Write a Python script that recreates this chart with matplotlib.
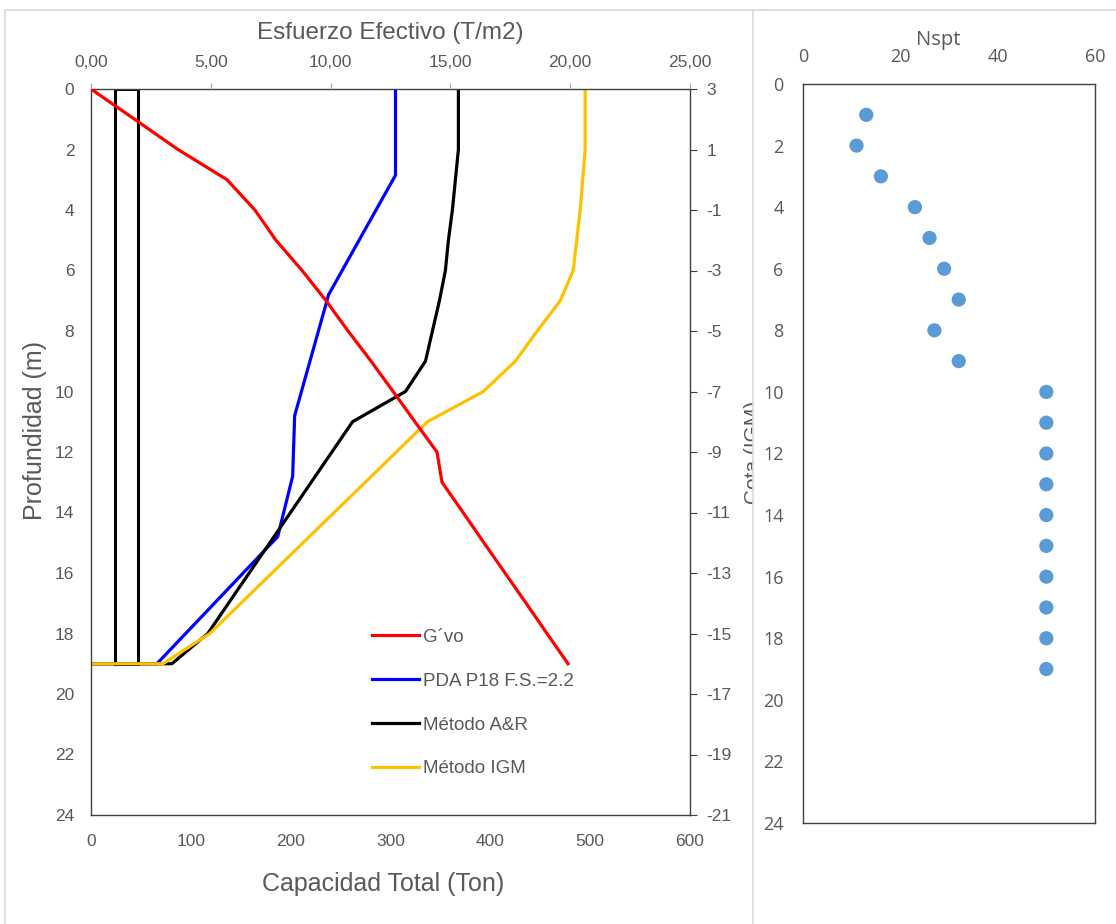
import matplotlib
matplotlib.use("Agg")
import matplotlib.pyplot as plt
from matplotlib.patches import Rectangle
from matplotlib.ticker import FuncFormatter, MultipleLocator

plt.rcParams["axes.unicode_minus"] = False

# ---------------- data ----------------
# Effective stress (T/m2) vs depth (m)
gvo_depth = [0, 1, 2, 3, 4, 5, 6, 7, 8, 9, 10, 11, 12, 13, 14, 15, 16, 17, 18, 19]
gvo_stress = [0.0, 1.82, 3.63, 5.68, 6.84, 7.72, 8.81, 9.81, 10.73, 11.69, 12.61,
              13.52, 14.44, 14.65, 15.53, 16.40, 17.28, 18.16, 19.03, 19.91]

# PDA P18 F.S.=2.2 (Ton)
pda_depth = [0, 2.85, 6.8, 10.8, 12.8, 14.8, 19, 19]
pda_cap = [305, 305, 238, 204, 202, 187, 66, 0]

# Método A&R (Ton)
ar_depth = [0, 2, 3, 4, 5, 6, 7, 8, 9, 10, 11, 18, 19, 19]
ar_cap = [368, 368, 365, 362, 358, 355, 349, 342, 335, 315, 262, 117, 81, 0]

# Método IGM (Ton)
igm_depth = [0, 2, 4, 6, 7, 8, 9, 10, 11, 18, 19, 19]
igm_cap = [495, 495, 490, 483, 470, 447, 425, 393, 337, 119, 72, 0]

# Pile outline (Ton units on capacity axis)
pile_cap = [24, 24, 47, 47, 24]
pile_depth = [19, 0, 0, 19, 19]

# Nspt profile
nspt_depth = [1, 2, 3, 4, 5, 6, 7, 8, 9, 10, 11, 12, 13, 14, 15, 16, 17, 18, 19]
nspt_vals = [13, 11, 16, 23, 26, 29, 32, 27, 32, 50, 50, 50, 50, 50, 50, 50, 50, 50, 50]

# ---------------- style ----------------
TXT = "#595959"
SPINE = "#404040"
narrow = ["Liberation Sans Narrow", "Liberation Sans", "DejaVu Sans"]
wide = ["Open Sans", "DejaVu Sans"]

W, H = 1116, 924
fig = plt.figure(figsize=(W / 100, H / 100), dpi=100)
fig.patch.set_facecolor("white")

def fx(px):
    return px / W

def fy(py):
    return 1 - py / H

# outer chart borders
fig.add_artist(Rectangle((fx(5), fy(1000)), fx(760), fy(10) - fy(1000),
                         transform=fig.transFigure, facecolor="white",
                         edgecolor="#d9d9d9", lw=1.2, zorder=-5))

# ---------------- left chart ----------------
ax = fig.add_axes([fx(91), fy(815), fx(690) - fx(91), fy(89) - fy(815)], zorder=0)
ax.set_xlim(0, 600)
ax.set_ylim(24, 0)
ax.xaxis.set_major_locator(MultipleLocator(100))
ax.yaxis.set_major_locator(MultipleLocator(2))
for s in ax.spines.values():
    s.set_color(SPINE)
    s.set_linewidth(1.0)
ax.tick_params(axis="both", length=0, colors=TXT, labelsize=12.5)
ax.tick_params(axis="x", pad=14)
ax.tick_params(axis="y", pad=12)
for lab in ax.get_xticklabels() + ax.get_yticklabels():
    lab.set_family(narrow)

ax_top = ax.twiny()
ax_top.set_xlim(0, 25)
ax_top.xaxis.set_major_locator(MultipleLocator(5))
ax_top.xaxis.set_major_formatter(FuncFormatter(lambda v, p: f"{v:.2f}".replace(".", ",")))
ax_top.tick_params(axis="x", length=4, color="#a6a6a6", colors=TXT, labelsize=12.5, pad=10)
for lab in ax_top.get_xticklabels():
    lab.set_family(narrow)
for s in ax_top.spines.values():
    s.set_visible(False)

ax_r = ax.twinx()
ax_r.set_ylim(-21, 3)
ax_r.set_yticks(list(range(3, -22, -2)))
ax_r.tick_params(axis="y", length=5, color=SPINE, colors=TXT, labelsize=12.5, pad=7)
for lab in ax_r.get_yticklabels():
    lab.set_family(narrow)
for s in ax_r.spines.values():
    s.set_visible(False)
ax_r.set_ylabel("Cota (IGM)", color=TXT, fontsize=15, family=narrow, labelpad=9)

# lines
l_red, = ax_top.plot(gvo_stress, gvo_depth, color="#FF0000", lw=2.3, label="G´vo")
ax.plot(pile_cap, pile_depth, color="black", lw=2.2, solid_joinstyle="miter")
l_blue, = ax.plot(pda_cap, pda_depth, color="#0000FF", lw=2.3, label="PDA P18 F.S.=2.2")
l_blk, = ax.plot(ar_cap, ar_depth, color="black", lw=2.3, label="Método A&R")
l_yel, = ax.plot(igm_cap, igm_depth, color="#FFC000", lw=2.3, label="Método IGM")

leg = fig.legend(handles=[l_red, l_blue, l_blk, l_yel], loc="upper left",
                 bbox_to_anchor=(fx(355), fy(612)), frameon=False,
                 prop={"family": narrow, "size": 13.5}, labelcolor=TXT,
                 handlelength=2.5, handletextpad=0.25, labelspacing=1.42)

fig.text(fx(390), fy(33), "Esfuerzo Efectivo (T/m2)", ha="center", va="center",
         color=TXT, fontsize=17.5, family=narrow)
fig.text(fx(383), fy(884), "Capacidad Total (Ton)", ha="center", va="center",
         color=TXT, fontsize=18, family=narrow)
fig.text(fx(35), fy(431), "Profundidad (m)", ha="center", va="center", rotation=90,
         color=TXT, fontsize=18, family=narrow)

# ---------------- right chart panel (covers left chart's edge) ----------------
fig.add_artist(Rectangle((fx(753), fy(1000)), fx(500), fy(10) - fy(1000),
                         transform=fig.transFigure, facecolor="white",
                         edgecolor="#d9d9d9", lw=1.2, zorder=5))

ax2 = fig.add_axes([fx(803), fy(823), fx(1095) - fx(803), fy(84) - fy(823)], zorder=10)
ax2.set_xlim(0, 60)
ax2.set_ylim(24, 0)
ax2.xaxis.set_major_locator(MultipleLocator(20))
ax2.yaxis.set_major_locator(MultipleLocator(2))
ax2.xaxis.tick_top()
for s in ax2.spines.values():
    s.set_color(SPINE)
    s.set_linewidth(1.0)
ax2.tick_params(axis="both", length=0, colors=TXT, labelsize=13)
ax2.tick_params(axis="x", pad=13)
ax2.tick_params(axis="y", pad=14)
for lab in ax2.get_xticklabels() + ax2.get_yticklabels():
    lab.set_family(wide)
ax2.scatter(nspt_vals, nspt_depth, s=105, color="#5B9BD5", edgecolors="none", zorder=3)
fig.text(fx(938), fy(40), "Nspt", ha="center", va="center", color=TXT,
         fontsize=14.5, family=wide, zorder=12)

fig.savefig("out.png", dpi=100, facecolor="white")
